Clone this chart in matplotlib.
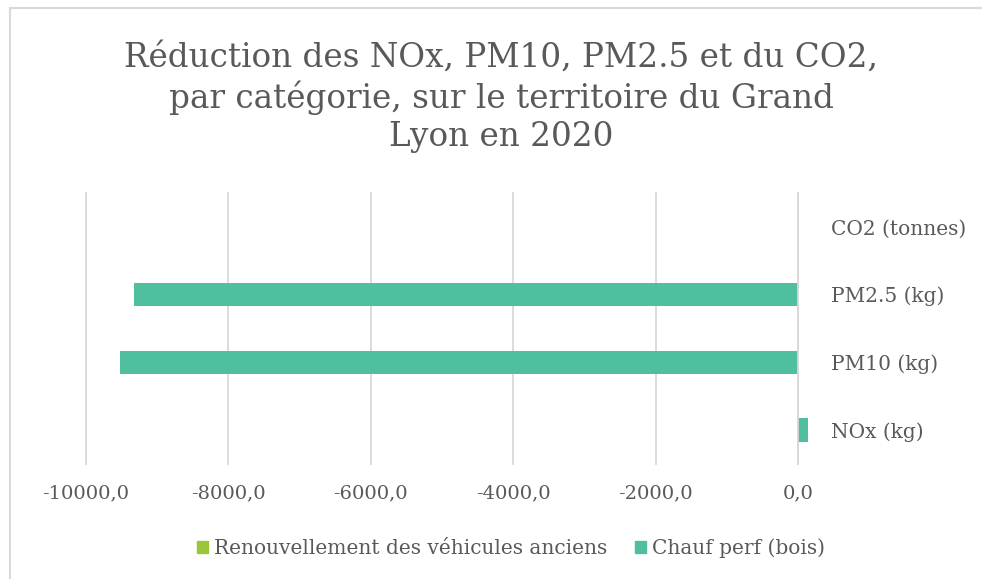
import matplotlib
matplotlib.use('Agg')
import matplotlib.pyplot as plt
from matplotlib.lines import Line2D
from matplotlib.patches import Patch
import numpy as np

# chart data
categories = ['NOx (kg)', 'PM10 (kg)', 'PM2.5 (kg)', 'CO2 (tonnes)']
renouvellement = [0.0, 0.0, 0.0, 0.0]
chauf_bois = [140.0, -9520.0, -9330.0, 0.0]
series_names = ['Renouvellement des véhicules anciens', 'Chauf perf (bois)']
x_ticks = [-10000, -8000, -6000, -4000, -2000, 0]

green = '#9BC53D'
teal = '#4FBFA0'
text_col = '#595959'
grid_col = '#D9D9D9'

plt.rcParams['font.family'] = ['DejaVu Serif']

W, H = 982, 579
fig = plt.figure(figsize=(W / 100, H / 100), dpi=100)

# chart border (top and left edges are visible)
fig.add_artist(Line2D([10 / W, 10 / W], [0, 1 - 8 / H], color=grid_col, lw=1.5))
fig.add_artist(Line2D([10 / W, 1], [1 - 8 / H, 1 - 8 / H], color=grid_col, lw=1.5))

ax = fig.add_axes([86 / W, 1 - 464 / H, (798 - 86) / W, (464 - 193) / H])

y = np.arange(len(categories))
ax.barh(y, renouvellement, height=0.35, color=green, clip_on=False)
ax.barh(y, chauf_bois, height=0.35, color=teal, clip_on=False)

ax.set_xlim(-10000, 0)
ax.set_ylim(-0.5, len(categories) - 0.5)
ax.set_xticks(x_ticks)
ax.set_xticklabels([f'{v:.1f}'.replace('.', ',') for v in x_ticks])
ax.xaxis.grid(True, color=grid_col, lw=1.3)
for gl in ax.get_xgridlines():
    gl.set_clip_on(False)
ax.set_axisbelow(True)

ax.set_yticks(y)
ax.set_yticklabels(categories)
ax.yaxis.tick_right()
ax.tick_params(axis='y', length=0, pad=24, labelsize=14.5, labelcolor=text_col)
ax.tick_params(axis='x', length=0, pad=15, labelsize=14, labelcolor=text_col)

for s in ['top', 'bottom', 'left']:
    ax.spines[s].set_visible(False)
ax.spines['right'].set_color(grid_col)
ax.spines['right'].set_linewidth(1.3)

fig.text(501 / W, 1 - 97 / H,
         'Réduction des NOx, PM10, PM2.5 et du CO2,\npar catégorie, sur le territoire du Grand\nLyon en 2020',
         ha='center', va='center', fontsize=23.5, color=text_col, linespacing=1.25)

handles = [Patch(color=green), Patch(color=teal)]
fig.legend(handles, series_names, loc='center', bbox_to_anchor=(511 / W, 1 - 548 / H),
           ncol=2, frameon=False, fontsize=14.5, labelcolor=text_col,
           handlelength=0.55, handleheight=0.55, handletextpad=0.3, columnspacing=1.4)

fig.savefig('out.png', dpi=100)
